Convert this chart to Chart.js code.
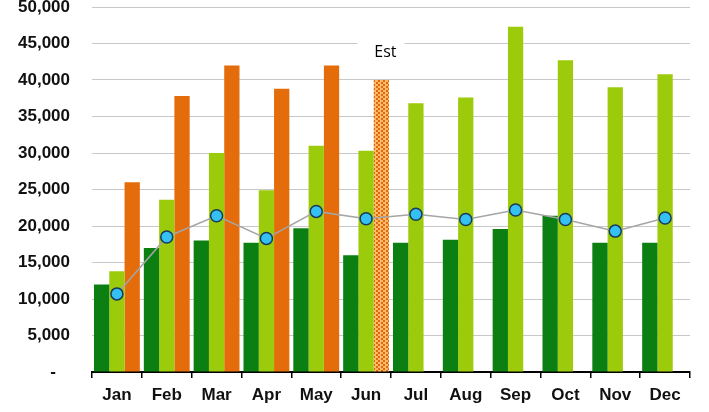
<!DOCTYPE html>
<html>
<head>
<meta charset="utf-8">
<title>Monthly chart</title>
<script src="https://cdn.jsdelivr.net/npm/chart.js@4/dist/chart.umd.min.js"></script>
<style>
    html, body { margin: 0; padding: 0; background: #ffffff; }
    #wrap { width: 709px; height: 412px; }
</style>
</head>
<body>
<div id="wrap"><canvas id="grafico" width="709" height="412"></canvas></div>
<script>
// Datos del gráfico
const meses = ['Jan', 'Feb', 'Mar', 'Apr', 'May', 'Jun', 'Jul', 'Aug', 'Sep', 'Oct', 'Nov', 'Dec'];
const serieVerdeOscuro = [12000, 17000, 18000, 17700, 19700, 16000, 17700, 18100, 19600, 21400, 17700, 17700];
const serieVerdeClaro = [13800, 23600, 30000, 24900, 31000, 30300, 36800, 37600, 47300, 42700, 39000, 40800];
const serieNaranja = [26000, 37800, 42000, 38800, 42000, 40000, null, null, null, null, null, null];
const serieLinea = [10700, 18500, 21400, 18300, 22000, 21000, 21600, 20900, 22200, 20900, 19300, 21100];
const indiceEstimado = 5; // Jun es estimado
const etiquetaEstimado = 'Est';

// Patrón de ladrillos para la barra estimada
function crearPatron() {
    const c = document.createElement('canvas');
    c.width = 5;
    c.height = 4;
    const g = c.getContext('2d');
    g.fillStyle = '#E2680C';
    g.fillRect(0, 0, 5, 4);
    g.fillStyle = '#FABA6A';
    g.fillRect(0, 0, 3, 2);
    g.fillRect(3, 2, 2, 2);
    g.fillRect(0, 2, 1, 2);
    return document.getElementById('grafico').getContext('2d').createPattern(c, 'repeat');
}

const patron = crearPatron();
const coloresNaranja = serieNaranja.map((v, i) => i === indiceEstimado ? patron : '#E46C0A');

// Plugin para la etiqueta "Est" encima de la barra estimada
const etiquetaPlugin = {
    id: 'etiquetaEst',
    afterDatasetsDraw(chart) {
        const meta = chart.getDatasetMeta(2);
        const barra = meta.data[indiceEstimado];
        if (!barra) return;
        const ctx = chart.ctx;
        const x = barra.x + 4;
        const y = barra.y - 28;
        ctx.save();
        ctx.fillStyle = '#ffffff';
        ctx.fillRect(x - 28, y - 14, 47, 28);
        ctx.fillStyle = '#000000';
        ctx.font = '16px "Open Sans", sans-serif';
        ctx.textAlign = 'center';
        ctx.textBaseline = 'middle';
        ctx.fillText(etiquetaEstimado, x, y);
        ctx.restore();
    }
};

const fuenteEjes = { family: '"Liberation Sans", Arial, sans-serif', size: 17, weight: 'bold' };

const grafico = new Chart(document.getElementById('grafico'), {
    type: 'bar',
    data: {
        labels: meses,
        datasets: [
            {
                data: serieVerdeOscuro,
                backgroundColor: '#0B7F12',
                categoryPercentage: 0.92,
                barPercentage: 1,
                order: 1
            },
            {
                data: serieVerdeClaro,
                backgroundColor: '#9CCB0C',
                categoryPercentage: 0.92,
                barPercentage: 1,
                order: 1
            },
            {
                data: serieNaranja,
                backgroundColor: coloresNaranja,
                categoryPercentage: 0.92,
                barPercentage: 1,
                order: 1
            },
            {
                type: 'line',
                data: serieLinea,
                borderColor: '#A5A5A5',
                borderWidth: 1.5,
                pointRadius: 6,
                pointBackgroundColor: '#35C0F2',
                pointBorderColor: '#173A5E',
                pointBorderWidth: 1.5,
                order: 0
            }
        ]
    },
    options: {
        responsive: false,
        animation: false,
        layout: { autoPadding: false, padding: { left: 18, right: 19, top: 7, bottom: 0 } },
        plugins: {
            legend: { display: false },
            tooltip: { enabled: false }
        },
        scales: {
            x: {
                grid: {
                    display: true,
                    offset: true,
                    drawOnChartArea: false,
                    drawTicks: true,
                    tickLength: 6,
                    color: '#000000',
                    lineWidth: 1.5
                },
                border: { display: true, color: '#000000', width: 2 },
                ticks: {
                    color: '#111111',
                    padding: 7,
                    font: fuenteEjes
                },
                afterFit: (escala) => {
                    escala.height = 40;
                    escala.paddingLeft = 0;
                    escala.paddingRight = 0;
                }
            },
            y: {
                min: 0,
                max: 50000,
                grid: {
                    color: '#C8C8C8',
                    lineWidth: 1,
                    drawTicks: false
                },
                border: { display: false },
                ticks: {
                    stepSize: 5000,
                    padding: 22,
                    color: '#111111',
                    font: fuenteEjes,
                    callback: (v) => v === 0 ? '-   ' : v.toLocaleString('en-US')
                },
                afterFit: (escala) => {
                    escala.width = 74;
                    escala.paddingTop = 0;
                    escala.paddingBottom = 0;
                }
            }
        }
    },
    plugins: [etiquetaPlugin]
});
</script>
</body>
</html>
